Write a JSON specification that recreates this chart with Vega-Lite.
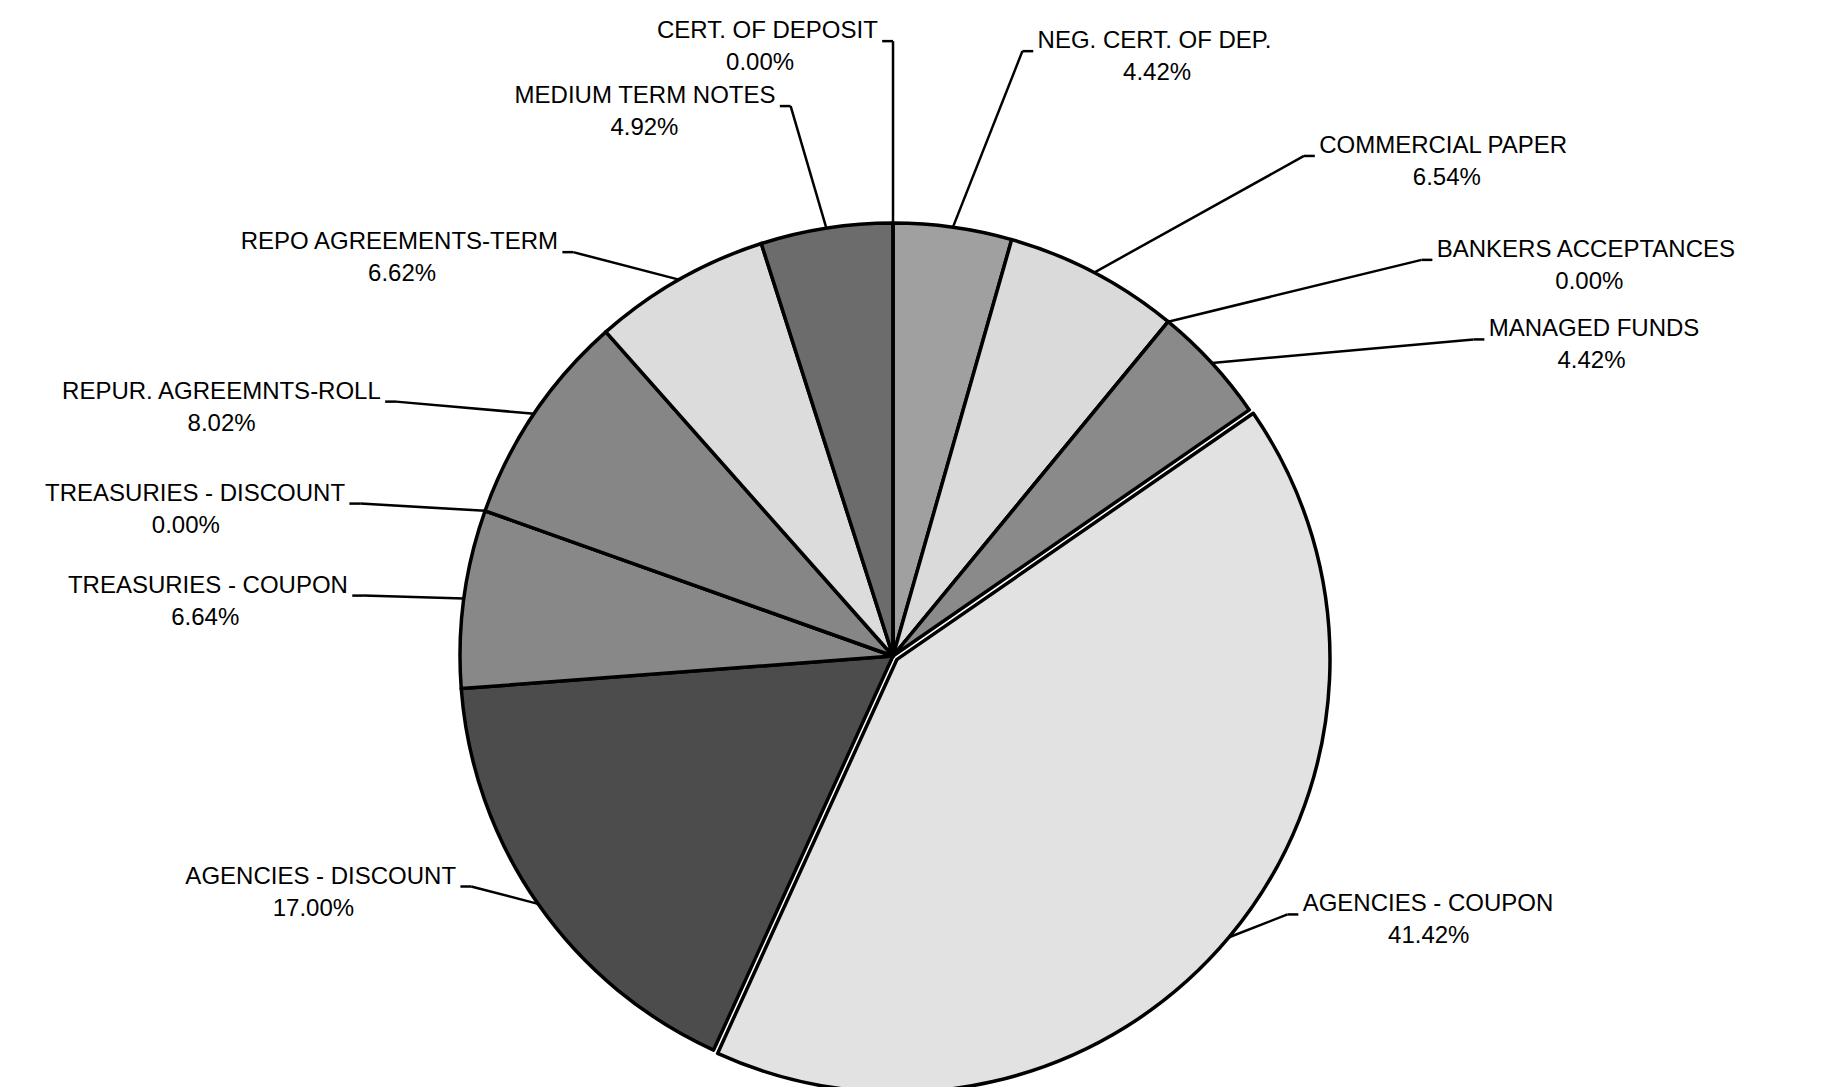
{
  "$schema": "https://vega.github.io/schema/vega-lite/v6.json",
  "width": 1835,
  "height": 1087,
  "padding": 0,
  "autosize": {"type": "none"},
  "background": "white",
  "config": {"view": {"stroke": null}},
  "data": {
    "values": [
      {"category": "NEG. CERT. OF DEP.", "pct": 4.42, "order": 1},
      {"category": "COMMERCIAL PAPER", "pct": 6.54, "order": 2},
      {"category": "BANKERS ACCEPTANCES", "pct": 0.0, "order": 3},
      {"category": "MANAGED FUNDS", "pct": 4.42, "order": 4},
      {"category": "AGENCIES - COUPON", "pct": 41.42, "order": 5},
      {"category": "AGENCIES - DISCOUNT", "pct": 17.0, "order": 6},
      {"category": "TREASURIES - COUPON", "pct": 6.64, "order": 7},
      {"category": "TREASURIES - DISCOUNT", "pct": 0.0, "order": 8},
      {"category": "REPUR. AGREEMNTS-ROLL", "pct": 8.02, "order": 9},
      {"category": "REPO AGREEMENTS-TERM", "pct": 6.62, "order": 10},
      {"category": "MEDIUM TERM NOTES", "pct": 4.92, "order": 11},
      {"category": "CERT. OF DEPOSIT", "pct": 0.0, "order": 12}
    ]
  },
  "transform": [
    {"stack": "pct", "groupby": [], "sort": [{"field": "order", "order": "ascending"}], "as": ["a0", "a1"]},
    {"calculate": "(datum.a0 + datum.a1) / 100 * PI", "as": "mid"},
    {"calculate": "sin(datum.mid)", "as": "s"},
    {"calculate": "cos(datum.mid)", "as": "c"},
    {"calculate": "datum.mid > PI ? -1 : 1", "as": "side"},
    {"calculate": "datum.category == 'AGENCIES - COUPON' ? 0.012 : 0", "as": "off"},
    {"calculate": "datum.off * datum.s", "as": "cx"},
    {"calculate": "datum.off * datum.c", "as": "cy"},
    {"calculate": "datum.cx + datum.s", "as": "px"},
    {"calculate": "datum.cy + datum.c", "as": "py"},
    {"calculate": "1.08 + 0.32 * max(datum.c, 0)", "as": "re"},
    {"calculate": "datum.side > 0 ? datum.s * datum.re * (1.1 + 0.45 * max(datum.c, 0)) : 1.1 * datum.re * datum.s", "as": "ex"},
    {"calculate": "datum.c <= 0 ? 0.93 * datum.c : (datum.side > 0 ? 1.42 * pow(datum.c, 1.7) : max(1.05 * datum.c, 1.42 * pow(datum.c, 3)))", "as": "ey0"},
    {"window": [{"op": "row_number", "as": "k"}], "groupby": ["side"], "sort": [{"field": "ey0", "order": "descending"}]},
    {"calculate": "datum.ey0 + 0.15 * datum.k", "as": "q"},
    {"window": [{"op": "min", "field": "q", "as": "qmin"}], "groupby": ["side"], "sort": [{"field": "ey0", "order": "descending"}], "frame": [null, 0]},
    {"calculate": "datum.qmin - 0.15 * datum.k", "as": "ey"},
    {"calculate": "datum.ex + 0.025 * datum.side", "as": "hx"},
    {"calculate": "datum.ex + 0.035 * datum.side", "as": "tx"},
    {"calculate": "length(replace(datum.category, regexp('[^A-Z]', 'g'), ''))", "as": "nl"},
    {"calculate": "0.0383 * datum.nl + 0.0154 * (length(datum.category) - datum.nl)", "as": "tw"},
    {"calculate": "datum.tx + datum.side * datum.tw / 2", "as": "pcx"},
    {"calculate": "format(datum.pct, '.2f') + '%'", "as": "plabel"}
  ],
  "layer": [
    {
      "transform": [{"filter": "datum.category != 'AGENCIES - COUPON'"}],
      "mark": {"type": "arc", "radius": 433, "stroke": "black", "strokeWidth": 3.5, "strokeJoin": "round"},
      "encoding": {
        "theta": {"field": "a0", "type": "quantitative", "scale": {"domain": [0, 100], "range": [0, 6.283185307179586]}},
        "theta2": {"field": "a1"},
        "color": {
          "field": "category", "type": "nominal", "legend": null,
          "scale": {
            "domain": ["NEG. CERT. OF DEP.", "COMMERCIAL PAPER", "BANKERS ACCEPTANCES", "MANAGED FUNDS", "AGENCIES - COUPON", "AGENCIES - DISCOUNT", "TREASURIES - COUPON", "TREASURIES - DISCOUNT", "REPUR. AGREEMNTS-ROLL", "REPO AGREEMENTS-TERM", "MEDIUM TERM NOTES", "CERT. OF DEPOSIT"],
            "range": ["#a0a0a0", "#dadada", "#c8c8c8", "#8a8a8a", "#e2e2e2", "#4c4c4c", "#888888", "#999999", "#868686", "#dcdcdc", "#6c6c6c", "#999999"]
          }
        },
        "x": {"datum": 0, "type": "quantitative", "scale": {"domain": [-2.0624, 2.1755], "nice": false, "zero": false}, "axis": null},
        "y": {"datum": 0, "type": "quantitative", "scale": {"domain": [-0.9954, 1.515], "nice": false, "zero": false}, "axis": null}
      }
    },
    {
      "transform": [{"filter": "datum.category == 'AGENCIES - COUPON'"}],
      "mark": {"type": "arc", "radius": 433, "stroke": "black", "strokeWidth": 3.5, "strokeJoin": "round"},
      "encoding": {
        "theta": {"field": "a0", "type": "quantitative", "scale": {"domain": [0, 100], "range": [0, 6.283185307179586]}},
        "theta2": {"field": "a1"},
        "color": {"field": "category", "type": "nominal", "legend": null},
        "x": {"field": "cx", "type": "quantitative", "scale": {"domain": [-2.0624, 2.1755], "nice": false, "zero": false}, "axis": null},
        "y": {"field": "cy", "type": "quantitative", "scale": {"domain": [-0.9954, 1.515], "nice": false, "zero": false}, "axis": null}
      }
    },
    {
      "mark": {"type": "rule", "color": "black", "strokeWidth": 2.5},
      "encoding": {
        "x": {"field": "px", "type": "quantitative", "scale": {"domain": [-2.0624, 2.1755], "nice": false, "zero": false}, "axis": null},
        "y": {"field": "py", "type": "quantitative", "scale": {"domain": [-0.9954, 1.515], "nice": false, "zero": false}, "axis": null},
        "x2": {"field": "ex"},
        "y2": {"field": "ey"}
      }
    },
    {
      "mark": {"type": "rule", "color": "black", "strokeWidth": 2.5},
      "encoding": {
        "x": {"field": "ex", "type": "quantitative", "scale": {"domain": [-2.0624, 2.1755], "nice": false, "zero": false}, "axis": null},
        "y": {"field": "ey", "type": "quantitative", "scale": {"domain": [-0.9954, 1.515], "nice": false, "zero": false}, "axis": null},
        "x2": {"field": "hx"}
      }
    },
    {
      "transform": [{"filter": "datum.side == 1"}],
      "mark": {"type": "text", "align": "left", "baseline": "middle", "dy": -10, "font": "Liberation Sans", "fontSize": 24, "color": "black"},
      "encoding": {
        "x": {"field": "tx", "type": "quantitative", "scale": {"domain": [-2.0624, 2.1755], "nice": false, "zero": false}, "axis": null},
        "y": {"field": "ey", "type": "quantitative", "scale": {"domain": [-0.9954, 1.515], "nice": false, "zero": false}, "axis": null},
        "text": {"field": "category"}
      }
    },
    {
      "transform": [{"filter": "datum.side == -1"}],
      "mark": {"type": "text", "align": "right", "baseline": "middle", "dy": -10, "font": "Liberation Sans", "fontSize": 24, "color": "black"},
      "encoding": {
        "x": {"field": "tx", "type": "quantitative", "scale": {"domain": [-2.0624, 2.1755], "nice": false, "zero": false}, "axis": null},
        "y": {"field": "ey", "type": "quantitative", "scale": {"domain": [-0.9954, 1.515], "nice": false, "zero": false}, "axis": null},
        "text": {"field": "category"}
      }
    },
    {
      "mark": {"type": "text", "align": "center", "baseline": "middle", "dy": 22, "font": "Liberation Sans", "fontSize": 24, "color": "black"},
      "encoding": {
        "x": {"field": "pcx", "type": "quantitative", "scale": {"domain": [-2.0624, 2.1755], "nice": false, "zero": false}, "axis": null},
        "y": {"field": "ey", "type": "quantitative", "scale": {"domain": [-0.9954, 1.515], "nice": false, "zero": false}, "axis": null},
        "text": {"field": "plabel"}
      }
    }
  ]
}
